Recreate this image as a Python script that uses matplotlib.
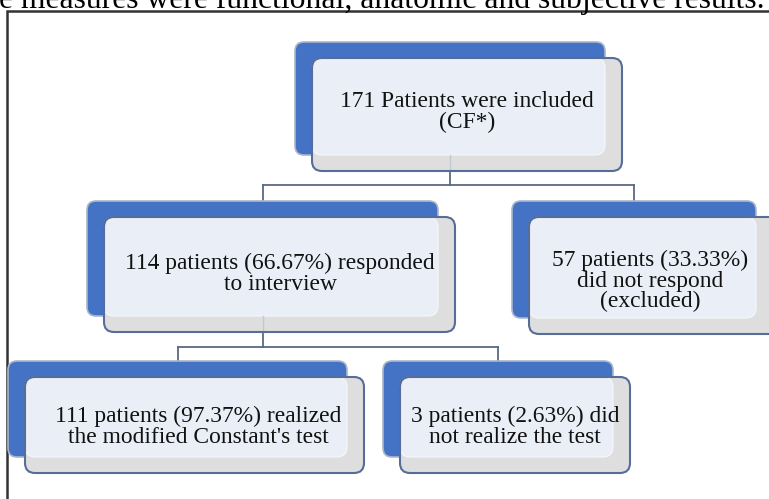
import matplotlib
matplotlib.use("Agg")
import matplotlib.pyplot as plt
from matplotlib.patches import FancyBboxPatch

# ---- content ----
header_text = "e measures were functional, anatomic and subjective results."
labels = [
    "171 Patients were included\n(CF*)",
    "114 patients (66.67%) responded\nto interview",
    "57 patients (33.33%)\ndid not respond\n(excluded)",
    "111 patients (97.37%) realized\nthe modified Constant's test",
    "3 patients (2.63%) did\nnot realize the test",
]
parents = [None, 0, 0, 1, 1]

# ---- layout (pixel units, y downward) ----
# back (dark) box: left, top, right, bottom
back_boxes = [
    (295, 42, 605, 155),
    (87, 201, 438, 316),
    (512, 201, 756, 318),
    (8, 361, 347, 457),
    (383, 361, 613, 457),
]
front_offset = (17, 16)
front_extra_right = [0, 0, 16, 0, 0]
# text centre of each box
text_centers = [(467, 112), (280, 274), (650, 281), (198, 427), (515, 427)]
bar_y = {0: 185, 1: 347}

W, H = 769, 499
fig = plt.figure(figsize=(W / 100, H / 100), dpi=100)
ax = fig.add_axes([0, 0, 1, 1])
ax.set_xlim(0, W)
ax.set_ylim(H, 0)
ax.axis("off")

FONT = "Liberation Serif"
DARK = "#4472C4"
DARK_EDGE = "#aab6cb"
FRONT_EDGE = "#566d99"
LIGHT = "#E9EEF7"
GRAY = "#DEDEDE"
LINE = "#5a6984"

# outer frame
ax.plot([7, 7, W + 5], [H + 5, 11, 11], color="#333333", lw=1.8, zorder=1,
        solid_joinstyle="miter", clip_on=False)

# header text (cut at top)
ax.text(-1, 8, header_text, fontsize=22.8, family=FONT, ha="left",
        va="baseline", color="black", zorder=2)


def rbox(x0, y0, x1, y1, r, **kw):
    p = FancyBboxPatch((x0, y0), x1 - x0, y1 - y0,
                       boxstyle=f"round,pad=0,rounding_size={r}", **kw)
    ax.add_patch(p)
    return p


# connectors
for pi in sorted(set(p for p in parents if p is not None)):
    kids = [i for i, p in enumerate(parents) if p == pi]
    bx = back_boxes[pi]
    pcx = (bx[0] + bx[2]) / 2
    yb = bar_y[pi]
    ax.plot([pcx, pcx], [bx[3], yb], color=LINE, lw=1.3, zorder=3)
    kx = [(back_boxes[k][0] + back_boxes[k][2]) / 2 for k in kids]
    ax.plot([min(kx), max(kx)], [yb, yb], color=LINE, lw=1.3, zorder=3)
    for k, cx in zip(kids, kx):
        ax.plot([cx, cx], [yb, back_boxes[k][1]], color=LINE, lw=1.3, zorder=3)

# boxes
for i, (x0, y0, x1, y1) in enumerate(back_boxes):
    dx, dy = front_offset
    fx0, fy0 = x0 + dx, y0 + dy
    fx1, fy1 = x1 + dx + front_extra_right[i], y1 + dy
    rbox(x0, y0, x1, y1, 9, fc=DARK, ec=DARK_EDGE, lw=1.2, zorder=4)
    rbox(fx0, fy0, fx1, fy1, 10, fc=GRAY, ec="none", lw=0, zorder=5)
    rbox(fx0, fy0, x1, y1, 10, fc=LIGHT, ec="#f6f8fc", lw=0.8, zorder=6)
    # faint connector visible through the translucent front box
    if i in bar_y:
        cx = (x0 + x1) / 2
        ax.plot([cx, cx], [y1, fy1], color="#c4c8cf", lw=1.0, zorder=6.5)
    rbox(fx0, fy0, fx1, fy1, 10, fc="none", ec=FRONT_EDGE, lw=1.5, zorder=7)
    tx, ty = text_centers[i]
    ax.text(tx, ty, labels[i], fontsize=16.9, family=FONT,
            ha="center", va="center", multialignment="center",
            linespacing=0.95, color="#111111", zorder=8)

fig.savefig("out.png", dpi=100)
